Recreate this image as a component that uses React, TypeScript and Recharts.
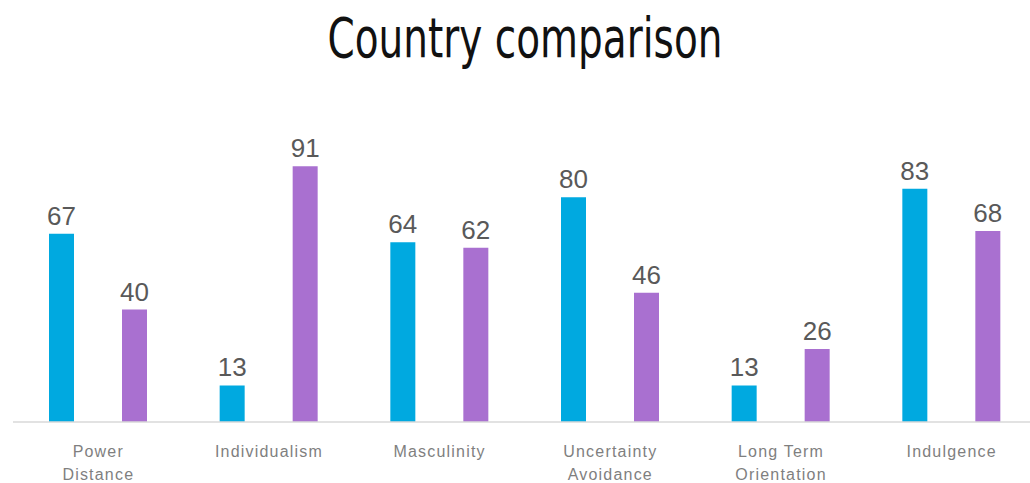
import { BarChart, Bar, XAxis, YAxis, LabelList } from "recharts";

const categories = [
  "Power\nDistance",
  "Individualism",
  "Masculinity",
  "Uncertainty\nAvoidance",
  "Long Term\nOrientation",
  "Indulgence",
];
const countryA = [67, 13, 64, 80, 13, 83];
const countryB = [40, 91, 62, 46, 26, 68];

const data = categories.map((name, i) => ({
  name,
  countryA: countryA[i],
  countryB: countryB[i],
}));

function CategoryTick(props: any) {
  const { x, y, payload } = props;
  const lines = String(payload.value).split("\n");
  return (
    <text
      x={x}
      y={y}
      textAnchor="middle"
      fill="#7f7f7f"
      fontSize={16}
      letterSpacing={1.2}
      fontFamily="'Liberation Sans', Arial, sans-serif"
    >
      {lines.map((line, i) => (
        <tspan key={i} x={x} dy={i === 0 ? 35 : 23}>
          {line}
        </tspan>
      ))}
    </text>
  );
}

export default function App() {
  return (
    <div
      style={{
        position: "absolute",
        left: 0,
        top: 0,
        width: 1030,
        height: 483,
        overflow: "hidden",
        background: "#fff",
      }}
    >
      <svg
        width={1030}
        height={90}
        style={{ position: "absolute", left: 0, top: 0 }}
      >
        <text
          x={525}
          y={57}
          textAnchor="middle"
          fontSize={56}
          fontFamily="'DejaVu Sans', sans-serif"
          fill="#111"
          textLength={395}
          lengthAdjust="spacingAndGlyphs"
        >
          Country comparison
        </text>
      </svg>
      <div style={{ position: "absolute", left: 0, top: 0 }}>
        <BarChart
          width={1045}
          height={483}
          data={data}
          margin={{ top: 141, right: 8, bottom: 0, left: 13 }}
          barSize={25}
          barGap={48}
        >
          <XAxis
            dataKey="name"
            height={61}
            interval={0}
            tickLine={false}
            tickSize={0}
            tickMargin={0}
            axisLine={{ stroke: "#d9d9d9", strokeWidth: 1.5 }}
            tick={<CategoryTick />}
          />
          <YAxis hide domain={[0, 100]} />
          <Bar dataKey="countryA" fill="#00a9e0" isAnimationActive={false}>
            <LabelList
              dataKey="countryA"
              position="top"
              offset={9}
              fill="#595959"
              fontSize={26}
              fontFamily="'Liberation Sans', Arial, sans-serif"
            />
          </Bar>
          <Bar dataKey="countryB" fill="#a970d0" isAnimationActive={false}>
            <LabelList
              dataKey="countryB"
              position="top"
              offset={9}
              fill="#595959"
              fontSize={26}
              fontFamily="'Liberation Sans', Arial, sans-serif"
            />
          </Bar>
        </BarChart>
      </div>
    </div>
  );
}
